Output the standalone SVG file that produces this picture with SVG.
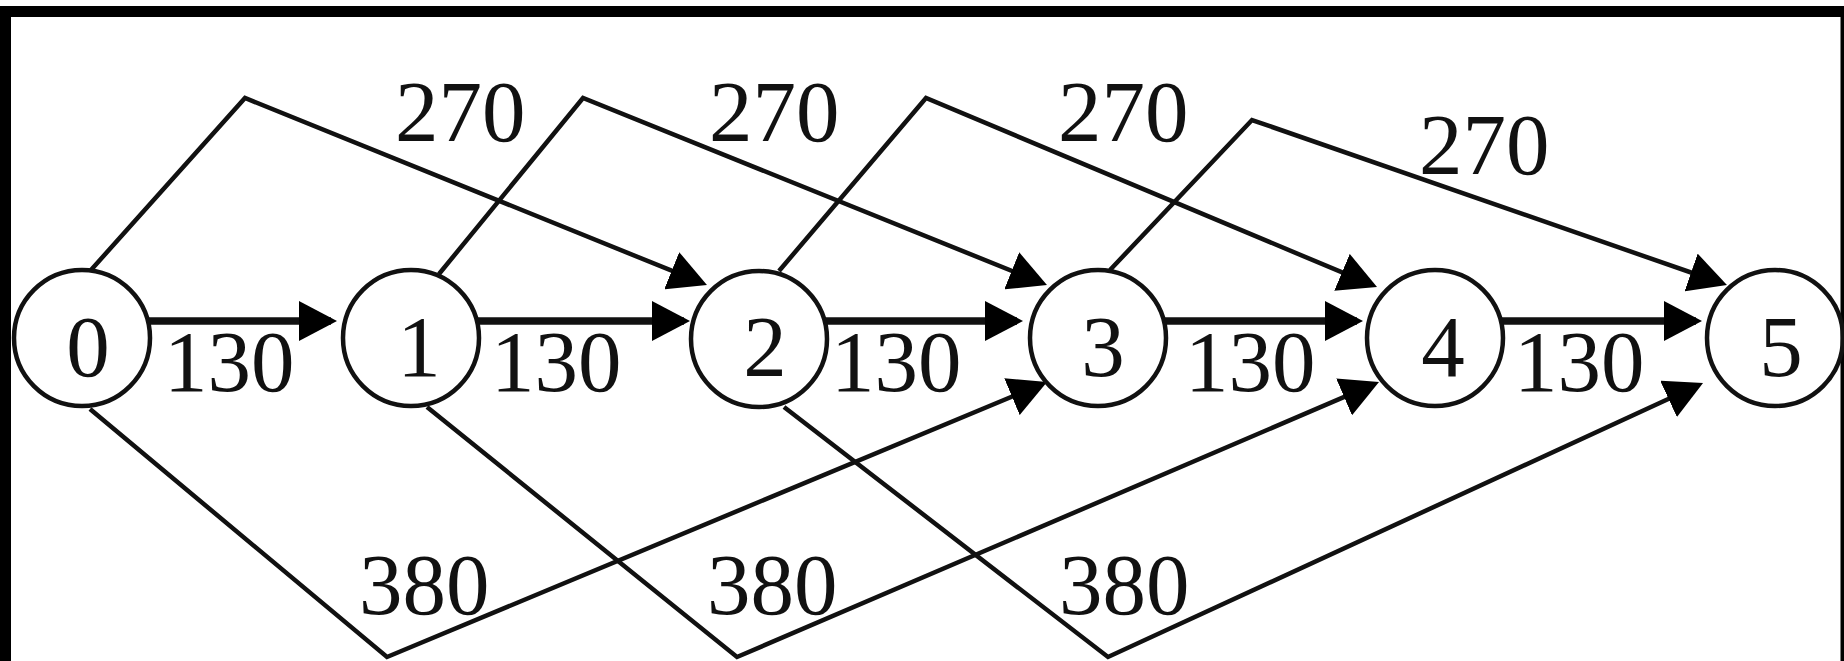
<svg xmlns="http://www.w3.org/2000/svg" width="1844" height="661" viewBox="0 0 1844 661">
<style>
.node circle{fill:none;stroke:#111;stroke-width:4.5}
.lbl{font-family:"Liberation Serif","Times New Roman",serif;font-size:87px;fill:#111}
.nl{text-anchor:middle}
.e{fill:none;stroke:#111;stroke-width:4.5;stroke-linejoin:miter;marker-end:url(#ah)}
.h{stroke-width:7.5}
</style>
<defs>
<marker id="ah" viewBox="0 0 38 40" refX="32" refY="20" markerWidth="38" markerHeight="40" markerUnits="userSpaceOnUse" orient="auto">
<path d="M0,0 L38,20 L0,40 z" fill="#000"/>
</marker>
</defs>
<rect x="0" y="0" width="1844" height="661" fill="#fff"/>
<rect x="5.5" y="11.5" width="1840.5" height="700" fill="none" stroke="#000" stroke-width="11"/>
<g id="connectors">
<path class="e h" d="M148,321 L331,321"/>
<path class="e h" d="M477,321 L684,321"/>
<path class="e h" d="M825,321 L1017,321"/>
<path class="e h" d="M1164,321 L1357,321"/>
<path class="e h" d="M1501,321 L1696,321"/>
<path class="e" d="M91,270 L245,98 L701.4,282.7"/>
<path class="e" d="M439,274 L583,98 L1041.4,282.8"/>
<path class="e" d="M779,271 L926,98 L1371.5,284.7"/>
<path class="e" d="M1110,270 L1252,120 L1721.3,283"/>
<path class="e" d="M90,409 L387,657 L1041.5,384.3"/>
<path class="e" d="M427,407 L737,657 L1373.5,384.4"/>
<path class="e" d="M784,407 L1108,657 L1697.6,385.5"/>
</g>
<g id="edge-labels" class="lbl">
<text x="164" y="391">130</text>
<text x="491" y="391">130</text>
<text x="831" y="391">130</text>
<text x="1185" y="391">130</text>
<text x="1514" y="391">130</text>
<text x="395" y="141">270</text>
<text x="709" y="141">270</text>
<text x="1058" y="141">270</text>
<text x="1419" y="174">270</text>
<text x="359" y="614">380</text>
<text x="707" y="614">380</text>
<text x="1059" y="614">380</text>
</g>
<g id="node0" class="node"><circle cx="82" cy="338" r="68"/><text class="lbl nl" x="88" y="376">0</text></g>
<g id="node1" class="node"><circle cx="411" cy="338" r="68"/><text class="lbl nl" x="419" y="376">1</text></g>
<g id="node2" class="node"><circle cx="759" cy="339" r="68"/><text class="lbl nl" x="765" y="376">2</text></g>
<g id="node3" class="node"><circle cx="1098" cy="338" r="68"/><text class="lbl nl" x="1103" y="376">3</text></g>
<g id="node4" class="node"><circle cx="1435" cy="338" r="68"/><text class="lbl nl" x="1443" y="376">4</text></g>
<g id="node5" class="node"><circle cx="1775" cy="338" r="68"/><text class="lbl nl" x="1781" y="376">5</text></g>
</svg>
